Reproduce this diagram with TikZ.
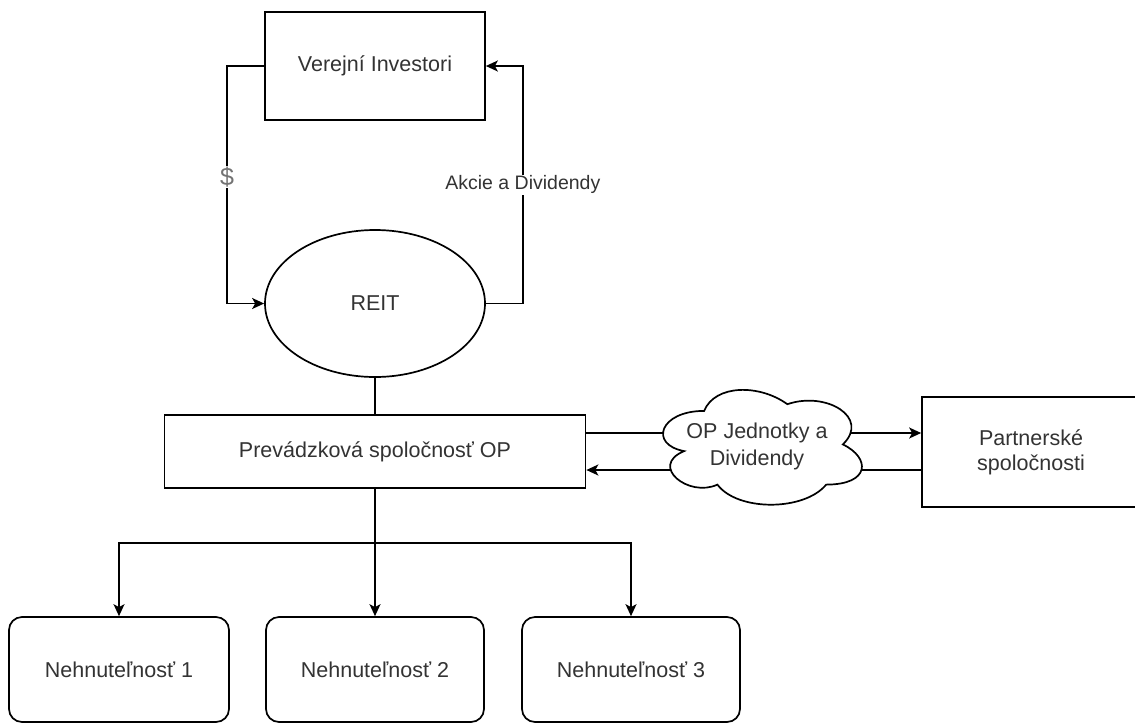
\documentclass[tikz,border=0pt]{standalone}
\usepackage{fontspec}
\setmainfont{Liberation Sans}
\usetikzlibrary{arrows.meta,shapes.geometric}
\begin{document}
\begin{tikzpicture}[x=1pt,y=-1pt,
  txt/.style={text=black!80, font=\fontsize{21.5}{26}\selectfont},
  box/.style={draw=black, line width=1.7pt, fill=white, txt, inner sep=0pt},
  arr/.style={-{Stealth[length=12pt,width=11pt,inset=3pt]}},
  conn/.style={line width=1.7pt, draw=black}]
\clip (0,0) rectangle (1135,724);
\useasboundingbox (0,0) rectangle (1135,724);

\node[box, minimum width=220pt, minimum height=108pt] (vi) at (375,66) {Verejní Investori};
\node[box, ellipse, minimum width=220pt, minimum height=147pt] (reit) at (375,303.5) {REIT};
\node[box, minimum width=421pt, minimum height=73pt] (prev) at (375,451.5) {Prevádzková spoločnosť OP};
\node[box, minimum width=218pt, minimum height=110pt, align=center, font=\fontsize{21.5}{25}\selectfont] (part) at (1031,452) {Partnerské\\spoločnosti};
\node[box, rounded corners=13pt, minimum width=220pt, minimum height=105pt] (n1) at (119,669.5) {Nehnuteľnosť 1};
\node[box, rounded corners=13pt, minimum width=218pt, minimum height=105pt] (n2) at (375,669.5) {Nehnuteľnosť 2};
\node[box, rounded corners=13pt, minimum width=218pt, minimum height=105pt] (n3) at (631,669.5) {Nehnuteľnosť 3};

\draw[conn, arr] (vi.west) -- ++(-37,0) |- node[pos=0.234, fill=white, text=black!55, font=\fontsize{25}{25}\selectfont, inner sep=1pt] {\$} (reit.west);
\draw[conn, arr] (reit.east) -- ++(37,0) |- node[pos=0.25, fill=white, txt, font=\fontsize{19.5}{20}\selectfont, inner sep=1pt] {Akcie a Dividendy} (vi.east);

\draw[conn] (reit.south) -- (prev.north);

\draw[conn, arr] ([yshift=18.5pt]prev.east) -- ([yshift=18.5pt]prev.east -| part.west);
\draw[conn, arr] ([yshift=-18.5pt]prev.east -| part.west) -- ([yshift=-18.5pt]prev.east);

\begin{scope}[shift={(648.6pt,-377.4pt)}, x=222pt, y=-134pt]
\draw[conn, fill=white] (0.25,0.25) .. controls (0.05,0.25) and (0,0.5) .. (0.16,0.55) .. controls (0,0.66) and (0.18,0.9) .. (0.31,0.8) .. controls (0.4,1) and (0.7,1) .. (0.8,0.8) .. controls (1,0.8) and (1,0.6) .. (0.875,0.5) .. controls (1,0.3) and (0.8,0.1) .. (0.625,0.2) .. controls (0.5,0.05) and (0.3,0.05) .. (0.25,0.25) -- cycle;
\end{scope}
\node[txt, align=center, font=\fontsize{21.5}{27}\selectfont] (opt) at (757,446.5) {OP Jednotky a\\Dividendy};

\coordinate (j) at (375,543);
\draw[conn, arr] (prev.south) -- (n2.north);
\draw[conn, arr] (j) -| (n1.north);
\draw[conn, arr] (j) -| (n3.north);
\end{tikzpicture}
\end{document}
